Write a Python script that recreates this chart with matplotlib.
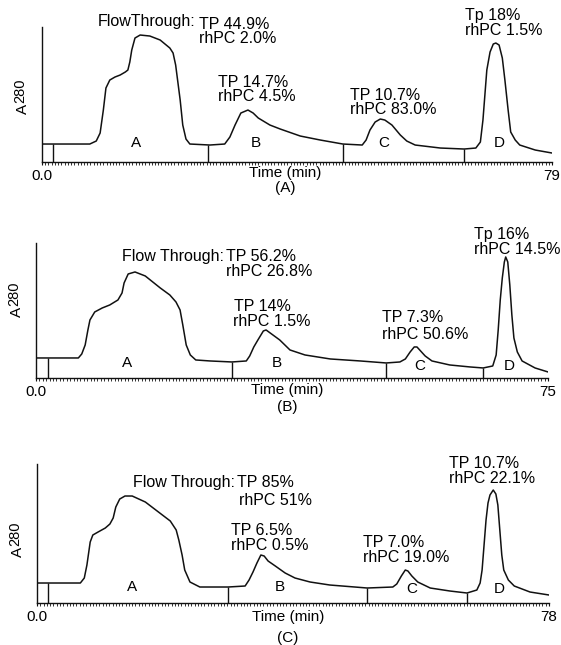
import numpy as np
import matplotlib
matplotlib.use('Agg')
import matplotlib.pyplot as plt
from matplotlib.ticker import MultipleLocator
from matplotlib.transforms import offset_copy

plt.rcParams['font.family'] = ['Liberation Sans', 'DejaVu Sans']

# ------------------------ chromatogram (A), 0 - 79 min
time_a = [0.0, 7.4, 8.4, 9.0, 9.5, 9.9, 10.5, 11.3, 12.1, 12.9, 13.3, 13.6, 13.9,
          14.4, 15.2, 16.7, 18.3, 19.8, 20.3, 20.7, 21.4, 21.8, 22.3, 22.9, 26.0,
          28.3, 29.1, 29.9, 30.8, 31.9, 32.7, 33.5, 35.3, 36.9, 40.0, 43.1, 46.6,
          49.6, 50.2, 50.8, 51.6, 52.4, 53.1, 54.2, 55.5, 56.5, 57.8, 61.7, 65.4,
          67.2, 67.9, 68.3, 68.6, 68.9, 69.4, 69.9, 70.3, 70.8, 71.3, 71.7, 72.2,
          72.6, 73.3, 74.0, 76.4, 79.0]
abs_a = [18, 18, 21, 29, 52, 74, 82, 85, 87, 90, 92, 100, 112,
         124, 127, 126, 122, 114, 109, 97, 62, 37, 23, 18, 17,
         18, 25, 37, 49, 52, 49, 44, 37, 33, 26, 22, 18,
         17, 22, 32, 40, 43, 42, 37, 27, 21, 17, 14, 13,
         14, 20, 42, 67, 92, 110, 118, 119, 117, 104, 82, 52,
         30, 22, 17, 12, 9]
cuts_a = [1.7, 25.7, 46.6, 65.4]
tp_a = ['TP 44.9%', 'TP 14.7%', 'TP 10.7%', 'Tp 18%']
rhpc_a = ['rhPC 2.0%', 'rhPC 4.5%', 'rhPC 83.0%', 'rhPC 1.5%']

# ------------------------ chromatogram (B), 0 - 75 min
time_b = [0.0, 6.2, 6.7, 7.2, 7.6, 7.9, 8.6, 9.7, 10.8, 12.0, 12.6, 12.9, 13.5,
          14.5, 16.0, 18.2, 19.6, 20.5, 21.1, 21.5, 22.0, 22.6, 23.4, 25.5, 28.7,
          30.8, 31.3, 31.9, 32.5, 33.3, 33.7, 34.3, 35.7, 37.2, 39.4, 43.1, 47.5,
          51.3, 53.3, 54.1, 54.8, 55.4, 55.8, 56.2, 57.0, 58.0, 60.6, 63.6, 65.5,
          66.9, 67.4, 67.7, 68.0, 68.3, 68.6, 68.8, 69.1, 69.4, 69.7, 70.0, 70.5,
          71.2, 73.1, 75.0]
abs_b = [20, 20, 24, 33, 48, 58, 66, 70, 73, 78, 85, 95, 104,
         106, 102, 90, 83, 76, 68, 53, 33, 23, 18, 17, 16,
         17, 22, 31, 38, 47, 48, 45, 38, 28, 23, 19, 17,
         15, 16, 19, 26, 31, 31, 28, 22, 17, 13, 11, 10,
         12, 23, 48, 78, 100, 116, 121, 116, 93, 63, 40, 26,
         17, 10, 6]
cuts_b = [1.8, 28.7, 51.3, 65.5]
tp_b = ['TP 56.2%', 'TP 14%', 'TP 7.3%', 'Tp 16%']
rhpc_b = ['rhPC 26.8%', 'rhPC 1.5%', 'rhPC 50.6%', 'rhPC 14.5%']

# ------------------------ chromatogram (C), 0 - 78 min
time_c = [0.0, 6.6, 7.2, 7.6, 8.1, 8.5, 9.3, 10.4, 11.1, 11.6, 12.0, 12.6, 13.4,
          14.5, 16.5, 18.7, 20.3, 21.2, 21.6, 22.1, 22.5, 23.3, 24.8, 29.1, 31.7,
          32.3, 32.9, 33.5, 34.1, 34.6, 35.2, 36.3, 37.8, 39.3, 41.6, 44.6, 50.3,
          54.2, 54.8, 55.5, 56.1, 56.5, 57.1, 58.0, 59.9, 62.9, 65.5, 67.0, 67.5,
          67.8, 68.1, 68.4, 68.7, 69.0, 69.5, 69.9, 70.2, 70.5, 70.8, 71.1, 71.8,
          72.7, 75.1, 78.0]
abs_c = [20, 20, 25, 38, 61, 68, 71, 75, 79, 85, 96, 104, 107,
         107, 101, 90, 82, 73, 63, 48, 33, 21, 16, 16, 17,
         23, 31, 40, 48, 47, 42, 37, 30, 25, 21, 18, 15,
         16, 19, 27, 33, 32, 27, 21, 15, 12, 10, 13, 20,
         33, 58, 83, 100, 108, 113, 109, 98, 73, 48, 33, 23,
         17, 11, 8]
cuts_c = [1.7, 29.1, 50.3, 65.5]
tp_c = ['TP 85%', 'TP 6.5%', 'TP 7.0%', 'TP 10.7%']
rhpc_c = ['rhPC 51%', 'rhPC 0.5%', 'rhPC 19.0%', 'rhPC 22.1%']

peak_names = ['A', 'B', 'C', 'D']

# layout: axes rect, ranges, flow label, TP / rhPC line positions (data units)
panels = [
    dict(rect=[0.0749, 0.7488, 0.9091, 0.2093], t=time_a, a=abs_a, cuts=cuts_a,
         tp=tp_a, rhpc=rhpc_a, tmax=79, ymax=135, end='79', tag='(A)',
         flow=('FlowThrough:', 23.7, 141),
         tp_xy=[(24.3, 138), (27.3, 80), (47.7, 67), (65.5, 147)],
         rh_xy=[(24.3, 124), (27.3, 66), (47.7, 53), (65.5, 132)],
         letter_xy=[(14.6, 19), (33.1, 19), (53.0, 19), (70.9, 19)],
         xl=(0.476, -0.08), tg=(0.476, -0.195), ylab=67),
    dict(rect=[0.0642, 0.4140, 0.9127, 0.2093], t=time_b, a=abs_b, cuts=cuts_b,
         tp=tp_b, rhpc=rhpc_b, tmax=75, ymax=135, end='75', tag='(B)',
         flow=('Flow Through:', 27.5, 121),
         tp_xy=[(27.8, 121), (29.0, 71), (50.7, 60), (64.2, 143)],
         rh_xy=[(27.8, 106), (28.9, 56), (50.7, 43), (64.2, 128)],
         letter_xy=[(13.3, 15), (35.3, 15), (56.2, 12), (69.3, 12)],
         xl=(0.49, -0.09), tg=(0.49, -0.215), ylab=80),
    dict(rect=[0.0660, 0.0651, 0.9127, 0.2155], t=time_c, a=abs_c, cuts=cuts_c,
         tp=tp_c, rhpc=rhpc_c, tmax=78, ymax=139, end='78', tag='(C)',
         flow=('Flow Through:', 30.2, 121),
         tp_xy=[(30.5, 121), (29.6, 73), (49.7, 61), (62.8, 140)],
         rh_xy=[(30.8, 103), (29.6, 58), (49.7, 46), (62.8, 125)],
         letter_xy=[(14.5, 16), (37.0, 16), (57.1, 14), (70.4, 14)],
         xl=(0.49, -0.10), tg=(0.49, -0.25), ylab=65),
]

fig = plt.figure(figsize=(5.61, 6.45), dpi=100)
ink = '#111111'

for p in panels:
    ax = fig.add_axes(p['rect'])
    t = np.array(p['t'])
    a = np.array(p['a'])

    # trace and fraction cuts
    ax.plot(t, a, color=ink, lw=1.1)
    ax.vlines(p['cuts'], 0, np.interp(p['cuts'], t, a), color=ink, lw=1.0)

    ax.set_xlim(0, p['tmax'])
    ax.set_ylim(0, p['ymax'])
    for s in ['top', 'right']:
        ax.spines[s].set_visible(False)
    for s in ['left', 'bottom']:
        ax.spines[s].set_color(ink)
        ax.spines[s].set_linewidth(1.0)

    ax.set_yticks([])
    ax.set_xticks([0, p['tmax']], ['0.0', p['end']])
    ax.xaxis.set_minor_locator(MultipleLocator(0.5))
    ax.tick_params(axis='x', which='major', length=2, pad=3, labelsize=11, color=ink)
    ax.tick_params(axis='x', which='minor', length=2, width=0.6, color=ink)

    # A280 y label, written as two rotated pieces (x in axes, y in data units)
    tr = ax.get_yaxis_transform()
    ax.text(0, p['ylab'], 'A', rotation=90, ha='right', va='bottom', fontsize=11,
            transform=offset_copy(tr, fig, x=-12, y=-19, units='dots'))
    ax.text(0, p['ylab'], '280', rotation=90, ha='right', va='bottom', fontsize=10.5,
            transform=offset_copy(tr, fig, x=-15, y=-8, units='dots'))

    ax.text(p['xl'][0], p['xl'][1], 'Time (min)', transform=ax.transAxes,
            ha='center', va='center', fontsize=11)
    ax.text(p['tg'][0], p['tg'][1], p['tag'], transform=ax.transAxes,
            ha='center', va='center', fontsize=11)

    # fraction notes
    label, fx, fy = p['flow']
    ax.text(fx, fy, label, ha='right', va='center', fontsize=11.5)
    for s, (nx, ny) in zip(p['tp'], p['tp_xy']):
        ax.text(nx, ny, s, ha='left', va='center', fontsize=11.5)
    for s, (nx, ny) in zip(p['rhpc'], p['rh_xy']):
        ax.text(nx, ny, s, ha='left', va='center', fontsize=11.5)
    for name, (lx, ly) in zip(peak_names, p['letter_xy']):
        ax.text(lx, ly, name, ha='center', va='center', fontsize=11)

fig.savefig('out.png', dpi=100)
